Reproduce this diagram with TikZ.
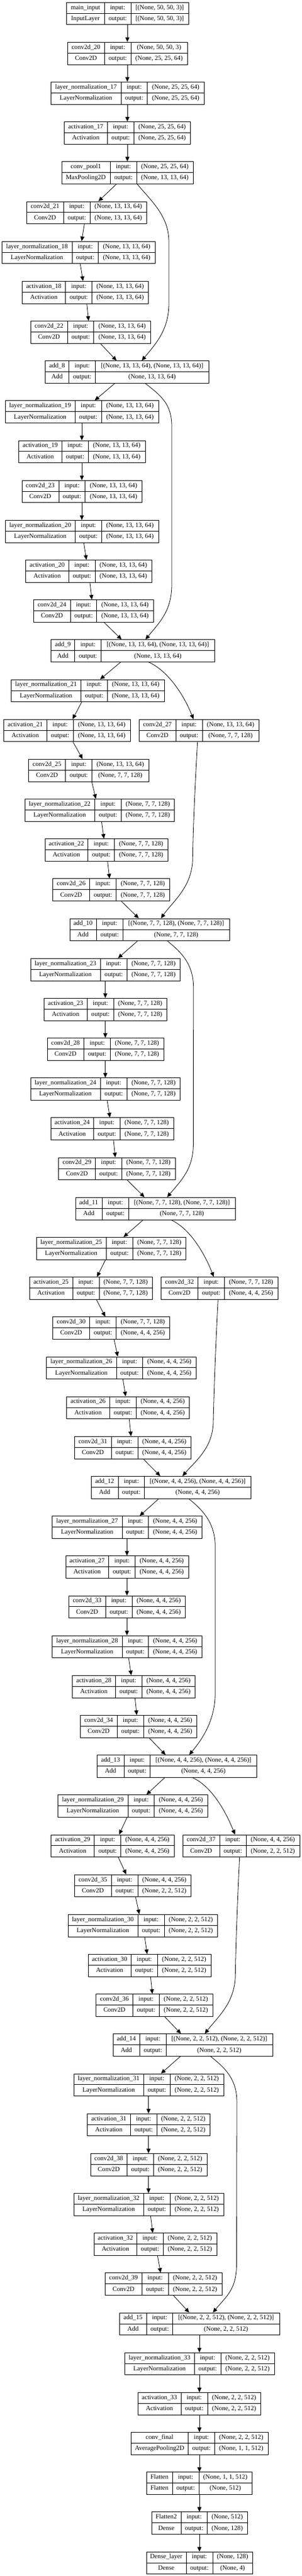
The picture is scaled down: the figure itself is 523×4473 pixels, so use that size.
\documentclass[tikz,border=0pt]{standalone}
\usepackage{fontspec}
\setmainfont{Liberation Serif}
\usepackage{tikz}
\usetikzlibrary{arrows.meta, calc}

\begin{document}
\begin{tikzpicture}[x=1pt, y=-1pt,
	every node/.style={font=\fontsize{11.2}{13}\selectfont},
	layerbox/.style={draw, line width=0.9pt, inner sep=0pt, anchor=north west, minimum height=38.7pt},
	cell/.style={inner sep=0pt, text height=7.6pt, text depth=2.4pt},
	arr/.style={-{Triangle[length=8pt,width=7pt]}, line width=0.8pt}]
	
	\useasboundingbox (0,0) rectangle (523,4473);
	
	%// one box per layer: name/row/left/col1/col2/right/layer/type/input/output
	\foreach \id/\r/\xl/\xa/\xb/\xr/\lname/\ltype/\vin/\vout in {
		inp/0/115.3/181.3/227/327/{main\_input}/{InputLayer}/{[(None, 50, 50, 3)]}/{[(None, 50, 50, 3)]},
		c20/1/117/181.3/227/325/{conv2d\_20}/{Conv2D}/{(None, 50, 50, 3)}/{(None, 25, 25, 64)},
		ln17/2/88.3/210/255.7/354/{layer\_normalization\_17}/{LayerNormalization}/{(None, 25, 25, 64)}/{(None, 25, 25, 64)},
		a17/3/111.3/186.3/232.3/330.3/{activation\_17}/{Activation}/{(None, 25, 25, 64)}/{(None, 25, 25, 64)},
		pool1/4/106.7/191.3/237/335/{conv\_pool1}/{MaxPooling2D}/{(None, 25, 25, 64)}/{(None, 13, 13, 64)},
		c21/5/46/110.3/156.3/254.3/{conv2d\_21}/{Conv2D}/{(None, 13, 13, 64)}/{(None, 13, 13, 64)},
		ln18/6/3.3/125/170.7/268.7/{layer\_normalization\_18}/{LayerNormalization}/{(None, 13, 13, 64)}/{(None, 13, 13, 64)},
		a18/7/38.3/113.7/159.7/257.3/{activation\_18}/{Activation}/{(None, 13, 13, 64)}/{(None, 13, 13, 64)},
		c22/8/52.7/117.3/162.7/261/{conv2d\_22}/{Conv2D}/{(None, 13, 13, 64)}/{(None, 13, 13, 64)},
		add8/9/78.3/119.7/165.7/362/{add\_8}/{Add}/{[(None, 13, 13, 64), (None, 13, 13, 64)]}/{(None, 13, 13, 64)},
		ln19/10/9/130.3/176.3/274.7/{layer\_normalization\_19}/{LayerNormalization}/{(None, 13, 13, 64)}/{(None, 13, 13, 64)},
		a19/11/32.3/107.3/153.3/251.7/{activation\_19}/{Activation}/{(None, 13, 13, 64)}/{(None, 13, 13, 64)},
		c23/12/37.7/102/147.7/246.3/{conv2d\_23}/{Conv2D}/{(None, 13, 13, 64)}/{(None, 13, 13, 64)},
		ln20/13/9/130.7/176.3/274.7/{layer\_normalization\_20}/{LayerNormalization}/{(None, 13, 13, 64)}/{(None, 13, 13, 64)},
		a20/14/44.3/119.3/165/263/{activation\_20}/{Activation}/{(None, 13, 13, 64)}/{(None, 13, 13, 64)},
		c24/15/58/122.3/167.7/266/{conv2d\_24}/{Conv2D}/{(None, 13, 13, 64)}/{(None, 13, 13, 64)},
		add9/16/88.3/129.7/175.7/372/{add\_9}/{Add}/{[(None, 13, 13, 64), (None, 13, 13, 64)]}/{(None, 13, 13, 64)},
		ln21/17/19/140.7/186.3/284.7/{layer\_normalization\_21}/{LayerNormalization}/{(None, 13, 13, 64)}/{(None, 13, 13, 64)},
		a21/18/6.3/81.3/127.3/225.7/{activation\_21}/{Activation}/{(None, 13, 13, 64)}/{(None, 13, 13, 64)},
		c27/18/241.3/305/351/449/{conv2d\_27}/{Conv2D}/{(None, 13, 13, 64)}/{(None, 7, 7, 128)},
		c25/19/49.3/113.7/159.7/257.7/{conv2d\_25}/{Conv2D}/{(None, 13, 13, 64)}/{(None, 7, 7, 128)},
		ln22/20/42.7/164.3/210.7/302.3/{layer\_normalization\_22}/{LayerNormalization}/{(None, 7, 7, 128)}/{(None, 7, 7, 128)},
		a22/21/77.7/152.7/198.7/291/{activation\_22}/{Activation}/{(None, 7, 7, 128)}/{(None, 7, 7, 128)},
		c26/22/91.3/155.7/201.7/294/{conv2d\_26}/{Conv2D}/{(None, 7, 7, 128)}/{(None, 7, 7, 128)},
		add10/23/120.7/167.3/213.3/398/{add\_10}/{Add}/{[(None, 7, 7, 128), (None, 7, 7, 128)]}/{(None, 7, 7, 128)},
		ln23/24/52.7/174.3/220.3/312.3/{layer\_normalization\_23}/{LayerNormalization}/{(None, 7, 7, 128)}/{(None, 7, 7, 128)},
		a23/25/76.3/151.3/197.3/289/{activation\_23}/{Activation}/{(None, 7, 7, 128)}/{(None, 7, 7, 128)},
		c28/26/81.7/145.7/191.7/283.7/{conv2d\_28}/{Conv2D}/{(None, 7, 7, 128)}/{(None, 7, 7, 128)},
		ln24/27/52.7/174.3/220.3/312.3/{layer\_normalization\_24}/{LayerNormalization}/{(None, 7, 7, 128)}/{(None, 7, 7, 128)},
		a24/28/87.7/162.7/208.3/300.7/{activation\_24}/{Activation}/{(None, 7, 7, 128)}/{(None, 7, 7, 128)},
		c29/29/101.3/165.7/211.3/303.7/{conv2d\_29}/{Conv2D}/{(None, 7, 7, 128)}/{(None, 7, 7, 128)},
		add11/30/130.7/177.3/223.3/408/{add\_11}/{Add}/{[(None, 7, 7, 128), (None, 7, 7, 128)]}/{(None, 7, 7, 128)},
		ln25/31/62.7/184.3/230.3/322.3/{layer\_normalization\_25}/{LayerNormalization}/{(None, 7, 7, 128)}/{(None, 7, 7, 128)},
		a25/32/50.7/126.3/172/264/{activation\_25}/{Activation}/{(None, 7, 7, 128)}/{(None, 7, 7, 128)},
		c32/32/279.3/343.7/389.3/482/{conv2d\_32}/{Conv2D}/{(None, 7, 7, 128)}/{(None, 4, 4, 256)},
		c30/33/91.3/155.7/201.7/294/{conv2d\_30}/{Conv2D}/{(None, 7, 7, 128)}/{(None, 4, 4, 256)},
		ln26/34/80.3/202/247.7/340/{layer\_normalization\_26}/{LayerNormalization}/{(None, 4, 4, 256)}/{(None, 4, 4, 256)},
		a26/35/115.3/190.3/236.3/328.3/{activation\_26}/{Activation}/{(None, 4, 4, 256)}/{(None, 4, 4, 256)},
		c31/36/129/193.3/239.3/331/{conv2d\_31}/{Conv2D}/{(None, 4, 4, 256)}/{(None, 4, 4, 256)},
		add12/37/158/205/250.7/435.3/{add\_12}/{Add}/{[(None, 4, 4, 256), (None, 4, 4, 256)]}/{(None, 4, 4, 256)},
		ln27/38/90.3/212/257.7/350/{layer\_normalization\_27}/{LayerNormalization}/{(None, 4, 4, 256)}/{(None, 4, 4, 256)},
		a27/39/113.7/188.7/234.7/326.7/{activation\_27}/{Activation}/{(None, 4, 4, 256)}/{(None, 4, 4, 256)},
		c33/40/119/183.3/229.3/321.3/{conv2d\_33}/{Conv2D}/{(None, 4, 4, 256)}/{(None, 4, 4, 256)},
		ln28/41/90.3/212/257.7/350/{layer\_normalization\_28}/{LayerNormalization}/{(None, 4, 4, 256)}/{(None, 4, 4, 256)},
		a28/42/125.3/200.3/246.3/338.3/{activation\_28}/{Activation}/{(None, 4, 4, 256)}/{(None, 4, 4, 256)},
		c34/43/139/203.3/249.3/341.3/{conv2d\_34}/{Conv2D}/{(None, 4, 4, 256)}/{(None, 4, 4, 256)},
		add13/44/168.3/215.3/260.7/445.3/{add\_13}/{Add}/{[(None, 4, 4, 256), (None, 4, 4, 256)]}/{(None, 4, 4, 256)},
		ln29/45/100.3/222/267.7/360/{layer\_normalization\_29}/{LayerNormalization}/{(None, 4, 4, 256)}/{(None, 4, 4, 256)},
		a29/46/88.3/163.7/209.7/301.7/{activation\_29}/{Activation}/{(None, 4, 4, 256)}/{(None, 4, 4, 256)},
		c37/46/317/381/427/519.7/{conv2d\_37}/{Conv2D}/{(None, 4, 4, 256)}/{(None, 2, 2, 512)},
		c35/47/129/193.3/239.3/331/{conv2d\_35}/{Conv2D}/{(None, 4, 4, 256)}/{(None, 2, 2, 512)},
		ln30/48/117.7/239.3/285/377.3/{layer\_normalization\_30}/{LayerNormalization}/{(None, 2, 2, 512)}/{(None, 2, 2, 512)},
		a30/49/152.7/227.7/273.3/365.7/{activation\_30}/{Activation}/{(None, 2, 2, 512)}/{(None, 2, 2, 512)},
		c36/50/166.3/230.7/276.3/368.7/{conv2d\_36}/{Conv2D}/{(None, 2, 2, 512)}/{(None, 2, 2, 512)},
		add14/51/195.7/242.7/288/473/{add\_14}/{Add}/{[(None, 2, 2, 512), (None, 2, 2, 512)]}/{(None, 2, 2, 512)},
		ln31/52/127.7/249.3/295/387.7/{layer\_normalization\_31}/{LayerNormalization}/{(None, 2, 2, 512)}/{(None, 2, 2, 512)},
		a31/53/151.3/226.3/272/364/{activation\_31}/{Activation}/{(None, 2, 2, 512)}/{(None, 2, 2, 512)},
		c38/54/156.7/220.7/266.3/358.7/{conv2d\_38}/{Conv2D}/{(None, 2, 2, 512)}/{(None, 2, 2, 512)},
		ln32/55/127.7/249.3/295/387.7/{layer\_normalization\_32}/{LayerNormalization}/{(None, 2, 2, 512)}/{(None, 2, 2, 512)},
		a32/56/162.7/237.7/283/376/{activation\_32}/{Activation}/{(None, 2, 2, 512)}/{(None, 2, 2, 512)},
		c39/57/182.3/246.3/292/384.7/{conv2d\_39}/{Conv2D}/{(None, 2, 2, 512)}/{(None, 2, 2, 512)},
		add15/58/207.3/254.3/299.7/484.7/{add\_15}/{Add}/{[(None, 2, 2, 512), (None, 2, 2, 512)]}/{(None, 2, 2, 512)},
		ln33/59/216.3/337.3/383.3/475.7/{layer\_normalization\_33}/{LayerNormalization}/{(None, 2, 2, 512)}/{(None, 2, 2, 512)},
		a33/60/239.3/314/360/452.3/{activation\_33}/{Activation}/{(None, 2, 2, 512)}/{(None, 2, 2, 512)},
		final/61/227/326.7/372.3/464.7/{conv\_final}/{AveragePooling2D}/{(None, 2, 2, 512)}/{(None, 1, 1, 512)},
		flat/62/254.3/299/345/437/{Flatten}/{Flatten}/{(None, 1, 1, 512)}/{(None, 512)},
		flat2/63/263/314/359.7/428.7/{Flatten2}/{Dense}/{(None, 512)}/{(None, 128)},
		dense/64/253.7/323/369/438/{Dense\_layer}/{Dense}/{(None, 128)}/{(None, 4)}}
	{
		\pgfmathsetmacro\ty{3.7+69.17*\r}
		\pgfmathsetmacro\bw{\xr-\xl}
		\node[layerbox, minimum width=\bw pt] (\id) at (\xl,\ty) {};
		\draw[line width=0.9pt] (\xa,\ty) -- ++(0,38.7) (\xb,\ty) -- ++(0,38.7) (\xl,\ty+19.35) -- (\xr,\ty+19.35);
		\node[cell] at ({(\xl+\xa)/2},\ty+9.7) {\lname};
		\node[cell] at ({(\xl+\xa)/2},\ty+29) {\ltype};
		\node[cell] at ({(\xa+\xb)/2},\ty+9.7) {input:};
		\node[cell] at ({(\xa+\xb)/2},\ty+29) {output:};
		\node[cell] at ({(\xb+\xr)/2},\ty+9.7) {\vin};
		\node[cell] at ({(\xb+\xr)/2},\ty+29) {\vout};
	}
	
	%// main chain
	\foreach \a/\xs/\b/\xe in {inp/221/c20/221, c20/221/ln17/221, ln17/221/a17/221, a17/221/pool1/221,
		pool1/201.7/c21/170.7, c21/146.3/ln18/141.7, ln18/139.3/a18/144, a18/150.7/c22/153.7, c22/174.3/add8/202.3,
		add8/199/ln19/164.3, ln19/142/a19/142, a19/142/c23/142, c23/142/ln20/142, ln20/145.3/a20/150,
		a20/156/c24/159.3, c24/180.7/add9/211, add9/209/ln21/173.7, ln21/141.7/a21/126, a21/126.7/c25/143.3,
		c25/159.3/ln22/166.3, ln22/176.3/a22/180.3, a22/186.7/c26/190, c26/210.7/add10/240.7,
		add10/238.3/ln23/204.7, ln23/182.7/a23/182.7, a23/182.7/c28/182.7, c28/182.7/ln24/182.7,
		ln24/186/a24/190.7, a24/197/c29/200, c29/221/add11/250.7, add11/248.3/ln25/214.3, ln25/183/a25/168.3,
		a25/167.3/c30/182.7, c30/198/ln26/204.3, ln26/213.3/a26/218, a26/224.3/c31/227.3, c31/248.7/add12/278,
		add12/275.3/ln27/242.3, ln27/220.3/a27/220.3, a27/220.3/c33/220.3, c33/220.3/ln28/220.3,
		ln28/223.3/a28/227.7, a28/234.3/c34/237.3, c34/258.7/add13/287.3, add13/285.7/ln29/254,
		ln29/220.3/a29/206.7, a29/205.3/c35/219, c35/235.3/ln30/241.7, ln30/251/a30/255.3, a30/261.3/c36/264.3,
		c36/285.7/add14/314, add14/312.7/ln31/279.3, ln31/257.7/a31/257.7, a31/257.7/c38/257.7,
		c38/257.7/ln32/257.7, ln32/261.3/a32/265, a32/273.3/c39/278.7, c39/301/add15/328.3,
		add15/346/ln33/346, ln33/346/a33/346, a33/346/final/346, final/346/flat/346, flat/346/flat2/346, flat2/346/dense/346}
	\draw[arr] (\a.south -| \xs,0) -- (\b.north -| \xe,0);
	
	%// skip connections
	\draw[arr] (pool1.south -| 238.3,0) .. controls +(25,30) and +(0,-45) .. (293,420) -- (293,527)
		.. controls +(0,45) and +(25,-30) .. (add8.north -| 246,0);
	\draw[arr] (add8.south -| 252.3,0) .. controls +(25,20) and +(0,-40) .. (298,740) -- (298,1015)
		.. controls +(0,45) and +(25,-30) .. (add9.north -| 252.3,0);
	\draw[arr] (add9.south -| 258.3,0) .. controls +(28,12) and +(-20,-50) .. (c27.north -| 335.7,0);
	\draw[arr] (c27.south -| 342.7,0) .. controls (338,1370) and (335,1440) .. (334.3,1490)
		.. controls (334,1540) and (300,1565) .. (add10.north -| 279.3,0);
	\draw[arr] (add10.south -| 290.7,0) .. controls +(25,20) and +(0,-40) .. (335.7,1715) -- (335.5,1985)
		.. controls +(0,45) and +(25,-30) .. (add11.north -| 290,0);
	\draw[arr] (add11.south -| 296.7,0) .. controls +(28,12) and +(-20,-50) .. (c32.north -| 371,0);
	\draw[arr] (c32.south -| 378.3,0) .. controls (374,2340) and (371,2420) .. (370,2470)
		.. controls (369,2515) and (338,2538) .. (add12.north -| 316.7,0);
	\draw[arr] (add12.south -| 327.7,0) .. controls +(25,20) and +(0,-40) .. (373.3,2685) -- (373.3,2940)
		.. controls +(0,45) and +(25,-30) .. (add13.north -| 328.3,0);
	\draw[arr] (add13.south -| 334,0) .. controls +(28,12) and +(-20,-50) .. (c37.north -| 407.7,0);
	\draw[arr] (c37.south -| 415.7,0) .. controls (412,3300) and (409,3380) .. (408.3,3430)
		.. controls (407.5,3478) and (378,3502) .. (add14.north -| 355.3,0);
	\draw[arr] (add14.south -| 365.7,0) .. controls +(25,20) and +(0,-40) .. (411,3650) -- (410.5,3930)
		.. controls +(0,45) and +(25,-30) .. (add15.north -| 369.3,0);
	
\end{tikzpicture}
\end{document}
